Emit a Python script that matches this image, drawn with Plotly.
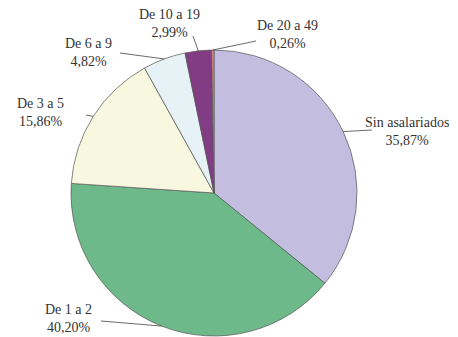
import math
import plotly.graph_objects as go

labels = ["Sin asalariados", "De 1 a 2", "De 3 a 5", "De 6 a 9", "De 10 a 19", "De 20 a 49"]
values = [35.87, 40.20, 15.86, 4.82, 2.99, 0.26]
value_text = ["35,87%", "40,20%", "15,86%", "4,82%", "2,99%", "0,26%"]
colors = ["#C3BEDF", "#6DB98A", "#F8F7DF", "#E6F2F5", "#823C84", "#E8857A"]

W, H = 458, 337
CX, CY, R = 214, 193, 143  # pie geometry in pixels
# label text centre (px) and leader start (px)
label_pos = [(407, 131), (68, 318), (40, 113), (88, 52), (169, 23), (287, 34)]
leader_start = [(372, 130), (101, 321), (86, 115), (120, 53), (193, 36), (256, 41)]

FONT = "Liberation Serif, serif"

def px(x):
    return x / W

def py(y):
    return 1 - y / H

fig = go.Figure(go.Pie(
    labels=labels, values=values, sort=False, direction="clockwise",
    marker=dict(colors=colors, line=dict(color="#555555", width=0.7)),
    textinfo="none", hoverinfo="label+percent", showlegend=False,
    domain=dict(x=[px(CX - R), px(CX + R)], y=[py(CY + R), py(CY - R)]),
))

total = sum(values)
cum = 0.0
shapes, annotations = [], []
for i, v in enumerate(values):
    mid = (cum + v / 2) / total * 2 * math.pi
    cum += v
    ex = CX + R * math.sin(mid)
    ey = CY - R * math.cos(mid)
    sx, sy = leader_start[i]
    shapes.append(dict(type="line", xref="paper", yref="paper",
                       x0=px(sx), y0=py(sy), x1=px(ex), y1=py(ey),
                       line=dict(color="#444444", width=0.8)))
    lx, ly = label_pos[i]
    annotations.append(dict(xref="paper", yref="paper", x=px(lx), y=py(ly),
                            text=f"{labels[i]}<br>{value_text[i]}", showarrow=False,
                            xanchor="center", yanchor="middle", align="center",
                            font=dict(family=FONT, size=14, color="#333333")))

fig.update_layout(
    width=W, height=H, margin=dict(l=0, r=0, t=0, b=0),
    paper_bgcolor="white", plot_bgcolor="white",
    shapes=shapes, annotations=annotations,
)
fig.write_html("out.html")
